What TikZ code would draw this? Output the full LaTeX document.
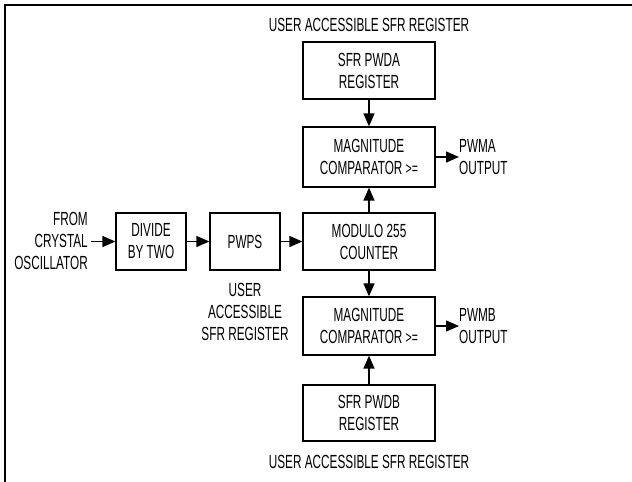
\documentclass[tikz,border=0pt]{standalone}
\usepackage{fontspec}
\setmainfont{Liberation Sans}[FakeStretch=0.62]
\usetikzlibrary{arrows.meta}
\newcommand{\mygeq}{{\fontsize{17}{17}\selectfont >=}}
\begin{document}
\begin{tikzpicture}[x=1pt,y=-1pt,
  blk/.style={draw,line width=1.3pt,inner sep=0pt,align=center,font=\fontsize{19}{22}\selectfont},
  lbl/.style={inner sep=0pt,font=\fontsize{19}{22}\selectfont},
  arr/.style={line width=1.4pt,-{Triangle[length=13pt,width=11pt]}}]
\useasboundingbox (0,0) rectangle (632,482);
\draw[line width=2pt] (5,500) -- (5,5) -- (650,5);
% boxes
\node[blk,minimum width=132pt,minimum height=57pt] (pwda) at (369,70.5) {SFR PWDA\\REGISTER};
\node[blk,minimum width=132pt,minimum height=60pt] (cmpa) at (369,157) {MAGNITUDE\\COMPARATOR \mygeq};
\node[blk,minimum width=132pt,minimum height=57pt] (mod) at (369,241.5) {MODULO 255\\COUNTER};
\node[blk,minimum width=132pt,minimum height=58pt] (cmpb) at (369,326) {MAGNITUDE\\COMPARATOR \mygeq};
\node[blk,minimum width=132pt,minimum height=56pt] (pwdb) at (369,413) {SFR PWDB\\REGISTER};
\node[blk,minimum width=70pt,minimum height=57pt] (div) at (151,241.5) {DIVIDE\\BY TWO};
\node[blk,minimum width=70pt,minimum height=57pt] (pwps) at (245,241.5) {PWPS};
% labels
\node[lbl] (ta) at (369,25) {USER ACCESSIBLE SFR REGISTER};
\node[lbl] (tb) at (369,462) {USER ACCESSIBLE SFR REGISTER};
\node[lbl,align=center] (tp) at (245,312) {USER\\ACCESSIBLE\\SFR REGISTER};
\node[lbl,align=right,anchor=east] (osc) at (88,241) {FROM\\CRYSTAL\\OSCILLATOR};
\node[lbl,align=left,anchor=west] (oa) at (459,157) {PWMA\\OUTPUT};
\node[lbl,align=left,anchor=west] (ob) at (459,326) {PWMB\\OUTPUT};
% connectors
\draw[arr] (osc.east |- div.west) ++(3,0) -- (div.west);
\draw[arr] (div) -- (pwps);
\draw[arr] (pwps) -- (mod);
\draw[arr] (pwda) -- (cmpa);
\draw[arr] (mod) -- (cmpa);
\draw[arr] (mod) -- (cmpb);
\draw[arr] (pwdb) -- (cmpb);
\draw[arr] (cmpa.east) -- (oa.west);
\draw[arr] (cmpb.east) -- (ob.west);
\end{tikzpicture}
\end{document}
